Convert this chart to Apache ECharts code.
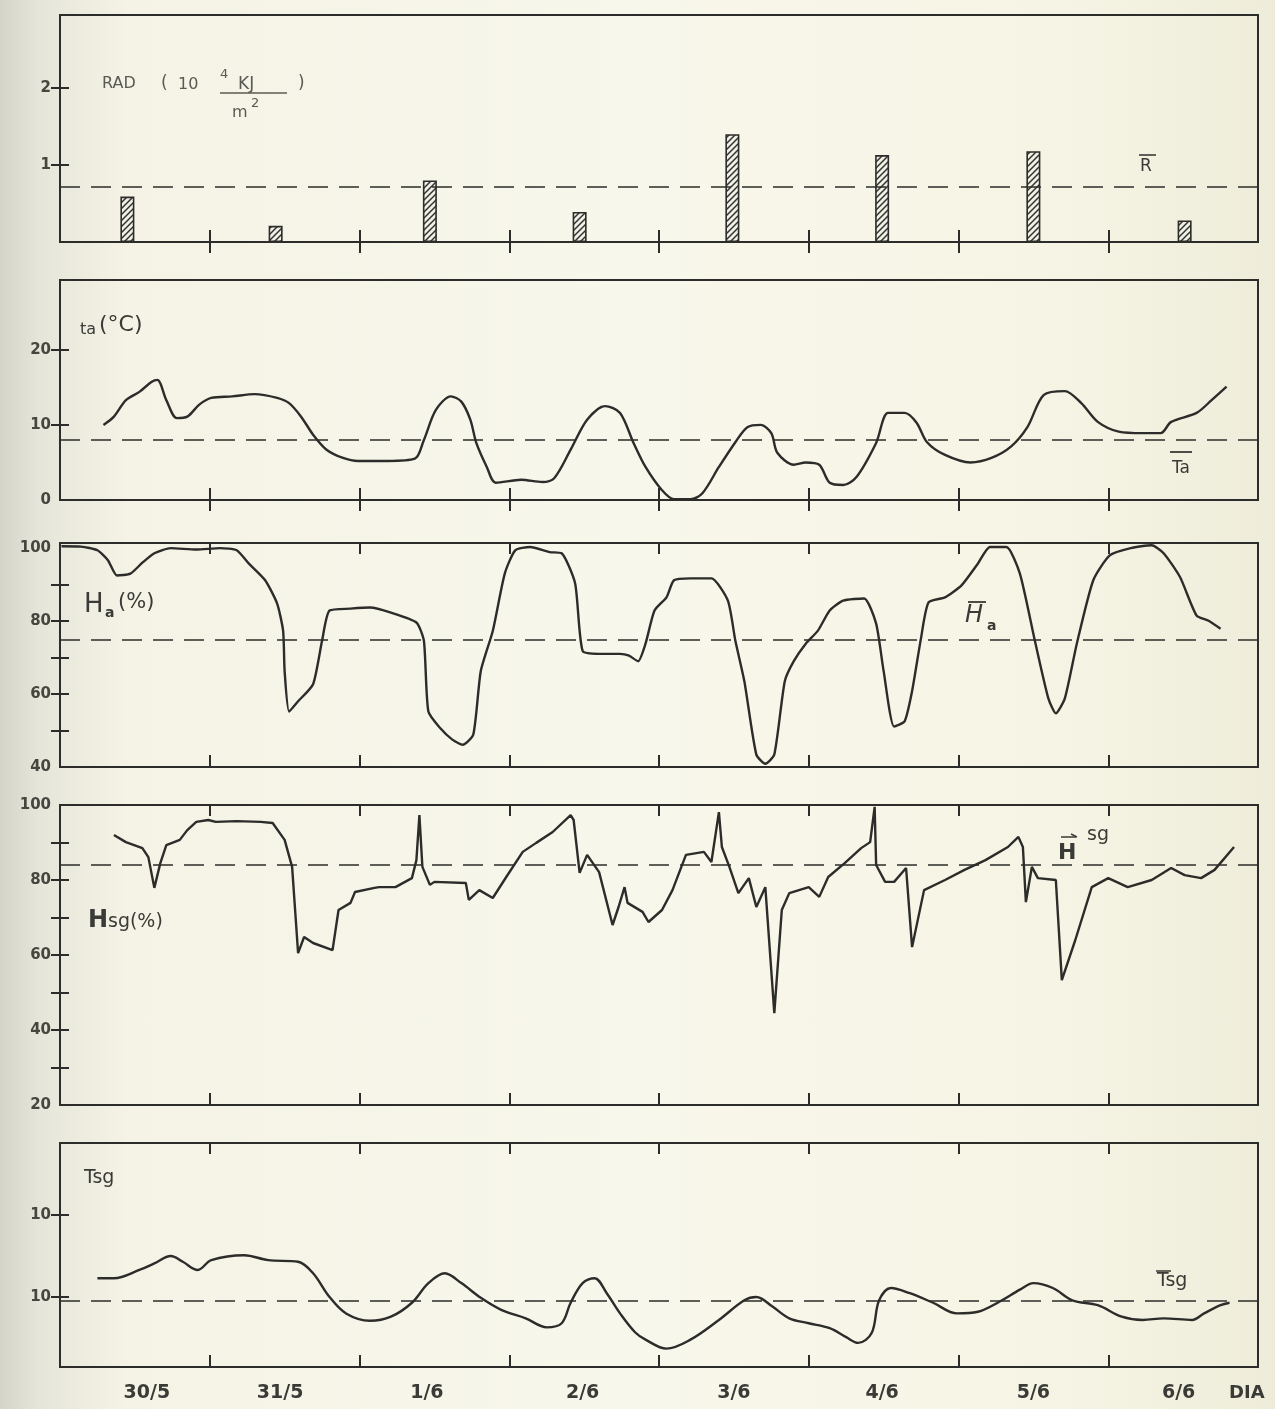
<!DOCTYPE html>
<html><head><meta charset="utf-8">
<script src="https://cdn.jsdelivr.net/npm/echarts@6/dist/echarts.min.js"></script>
<style>
html,body{margin:0;padding:0;}
body{width:1275px;height:1409px;background:linear-gradient(to right,#d4d4c9 0%,#e6e5d9 3%,#f4f3e6 10%,#f8f7eb 50%,#f5f4e4 85%,#eeecd9 100%);}
#c{width:1275px;height:1409px;}
</style></head><body><div id="c"></div>
<script>
// ---------- data ----------
const dayLabels = ['30/5','31/5','1/6','2/6','3/6','4/6','5/6','6/6'];
const dayLabelPos = [0.58,1.47,2.45,3.49,4.5,5.49,6.5,7.47];
const dayTicks = [1,2,3,4,5,6,7];

const radDayPos = [0.45,1.44,2.47,3.47,4.49,5.49,6.5,7.51];
const radValues = [0.59,0.21,0.8,0.39,1.4,1.13,1.18,0.28];
const radMean = 0.72;

const taData = [[0.29,10],[0.36,11.1],[0.44,13.3],[0.53,14.4],[0.61,15.7],[0.65,16],[0.71,13.3],[0.78,10.9],[0.85,11.1],[0.93,12.7],[1.01,13.6],[1.15,13.8],[1.3,14.1],[1.45,13.6],[1.53,12.9],[1.61,11.1],[1.69,8.7],[1.78,6.7],[1.89,5.6],[1.99,5.2],[2.19,5.2],[2.37,5.5],[2.43,8],[2.51,12],[2.61,13.8],[2.68,13.1],[2.74,10.7],[2.78,7.6],[2.85,4.4],[2.91,2.3],[3.08,2.7],[3.22,2.4],[3.3,2.9],[3.41,6.7],[3.52,10.7],[3.64,12.5],[3.74,11.6],[3.83,7.6],[3.91,4.4],[4.02,1.3],[4.1,0.1],[4.21,0.1],[4.29,0.9],[4.4,4.4],[4.51,7.7],[4.59,9.7],[4.68,10],[4.75,8.9],[4.79,6.3],[4.9,4.7],[4.98,5],[5.07,4.7],[5.14,2.3],[5.23,2],[5.32,3.1],[5.45,7.6],[5.53,11.6],[5.64,11.6],[5.72,10.3],[5.79,7.7],[5.91,6],[6.08,5],[6.22,5.6],[6.35,7.1],[6.46,9.7],[6.57,14],[6.71,14.5],[6.82,12.9],[6.93,10.4],[7.07,9.1],[7.23,8.9],[7.35,8.9],[7.42,10.4],[7.59,11.6],[7.69,13.3],[7.79,15.1]];
const taMean = 8;

const haData = [[0.01,100.5],[0.14,100.4],[0.25,99.4],[0.32,96.7],[0.38,92.5],[0.47,93],[0.55,96],[0.63,98.6],[0.74,100],[0.91,99.6],[1.07,100],[1.18,99.4],[1.26,95.8],[1.37,91.2],[1.45,84.8],[1.49,77.3],[1.5,66.3],[1.53,55.2],[1.59,58],[1.69,62.7],[1.75,74.6],[1.8,82.9],[1.94,83.4],[2.07,83.7],[2.21,82.3],[2.38,79.6],[2.43,74.6],[2.46,55.2],[2.54,50.6],[2.62,47.5],[2.69,46.1],[2.76,48.9],[2.81,66.3],[2.89,77.3],[2.97,93],[3.04,99.4],[3.14,100.3],[3.27,98.9],[3.35,98.6],[3.44,90.3],[3.49,71.8],[3.6,71],[3.74,71],[3.8,70.5],[3.86,69],[3.91,73.8],[3.97,82.9],[4.05,86.5],[4.1,91.2],[4.21,91.7],[4.35,91.7],[4.46,85.6],[4.51,74.6],[4.57,63.5],[4.65,43.4],[4.71,40.9],[4.77,43.4],[4.84,63.5],[4.9,69],[4.98,73.8],[5.06,77.3],[5.14,82.9],[5.23,85.6],[5.37,86.2],[5.45,79.3],[5.5,66.3],[5.57,51.1],[5.64,52.5],[5.69,60.8],[5.75,75.4],[5.8,85.1],[5.91,86.5],[6.02,89.8],[6.13,95.8],[6.21,100.3],[6.32,100.3],[6.41,93],[6.51,74.6],[6.6,58.8],[6.65,54.7],[6.71,58.8],[6.79,73.8],[6.9,91.2],[7.01,98],[7.15,100],[7.29,100.8],[7.37,98.6],[7.48,92],[7.59,81.5],[7.67,80.1],[7.75,77.9]];
const haMean = 75;

const hsgData = [[0.36,92],[0.44,90.1],[0.55,88.5],[0.59,86.1],[0.63,77.9],[0.67,84.5],[0.71,89.3],[0.8,90.7],[0.85,93.3],[0.91,95.5],[0.99,96],[1.04,95.5],[1.18,95.7],[1.34,95.5],[1.42,95.2],[1.5,90.7],[1.55,83.5],[1.59,60.5],[1.63,64.8],[1.69,63.2],[1.82,61.3],[1.86,72],[1.94,73.9],[1.97,76.8],[2.1,77.9],[2.13,78.1],[2.24,78.1],[2.35,80.5],[2.38,85.3],[2.4,97.3],[2.42,83.5],[2.47,78.7],[2.5,79.5],[2.71,79.2],[2.73,74.7],[2.8,77.3],[2.89,75.2],[2.98,80.8],[3.09,87.5],[3.18,89.9],[3.29,92.8],[3.41,97.3],[3.43,96],[3.47,81.9],[3.52,86.7],[3.6,82.1],[3.69,68],[3.73,72.8],[3.77,78.1],[3.79,73.9],[3.89,71.5],[3.93,68.8],[4.02,72],[4.09,77.3],[4.18,86.7],[4.3,87.5],[4.35,84.8],[4.4,98.1],[4.42,88.8],[4.47,83.5],[4.53,76.5],[4.6,80.5],[4.65,72.8],[4.71,78.1],[4.77,44.5],[4.82,72],[4.87,76.5],[5.0,78.1],[5.07,75.5],[5.13,80.8],[5.24,84.5],[5.35,88.5],[5.41,90.1],[5.44,99.5],[5.45,84],[5.51,79.5],[5.57,79.5],[5.65,83.2],[5.69,62.1],[5.77,77.3],[5.91,80],[6.04,82.7],[6.18,85.3],[6.33,88.8],[6.4,91.5],[6.43,88.8],[6.45,74.1],[6.49,83.5],[6.53,80.5],[6.65,80],[6.69,53.3],[6.78,64],[6.89,78.1],[7.0,80.5],[7.13,78.1],[7.29,80],[7.42,83.2],[7.51,81.3],[7.62,80.5],[7.71,82.7],[7.84,88.8]];
const hsgMean = 84;

const tsgData = [[0.25,12.3],[0.36,12.3],[0.53,13.3],[0.63,14.1],[0.74,15],[0.82,14.3],[0.92,13.3],[1.01,14.5],[1.23,15.1],[1.39,14.5],[1.59,14.3],[1.69,12.9],[1.8,10],[1.91,8],[2.07,7.1],[2.21,7.6],[2.35,9.3],[2.46,11.7],[2.57,12.9],[2.68,11.7],[2.81,9.9],[2.95,8.4],[3.11,7.4],[3.25,6.3],[3.35,6.8],[3.41,9.3],[3.49,11.7],[3.57,12.3],[3.65,10.5],[3.74,8],[3.84,5.7],[3.91,4.8],[4.05,3.7],[4.21,4.8],[4.4,7.2],[4.57,9.6],[4.65,10],[4.76,8.8],[4.87,7.4],[5.0,6.8],[5.14,6.2],[5.25,5.1],[5.33,4.4],[5.42,5.6],[5.47,9.6],[5.55,11.1],[5.67,10.5],[5.83,9.3],[5.99,8],[6.13,8.2],[6.27,9.4],[6.41,10.9],[6.5,11.7],[6.63,11.1],[6.76,9.6],[6.93,9],[7.09,7.6],[7.23,7.2],[7.37,7.4],[7.56,7.2],[7.64,8],[7.75,9],[7.81,9.3]];
const tsgMean = 9.5;

const radTicks = [1,2];           const radTickLabels = ['1','2'];
const taTicks = [0,10,20];        const taTickLabels = ['0','10','20'];
const haTicks = [40,60,80,100];   const haTickLabels = ['40','60','80','100'];
const haMinor = [50,60,70,80,90];
const hsgTicks = [20,40,60,80,100]; const hsgTickLabels = ['20','40','60','80','100'];
const hsgMinor = [30,40,50,60,70,80,90];
const tsgTicks = [10,20];         const tsgTickLabels = ['10','10'];

// ---------- layout / style ----------
const INK = '#2c2c2a';
const TXT = '#3a3a36';
const FONT = "'DejaVu Sans','Noto Sans',sans-serif";

const panels = [
  {top:15,  height:227, min:0,    max:2.95,  labels:radTicks, texts:radTickLabels, minor:radTicks},
  {top:280, height:220, min:0,    max:29.3,  labels:taTicks,  texts:taTickLabels,  minor:[10,20]},
  {top:543, height:224, min:40,   max:101.4, labels:haTicks,  texts:haTickLabels,  minor:haMinor},
  {top:805, height:300, min:20,   max:100,   labels:hsgTicks, texts:hsgTickLabels, minor:hsgMinor},
  {top:1143,height:224, min:1.46, max:28.8,  labels:tsgTicks, texts:tsgTickLabels, minor:tsgTicks}
];

const grid=[], xAxis=[], yAxis=[];
panels.forEach((p,i)=>{
  grid.push({left:60, width:1198, top:p.top, height:p.height, show:true, borderColor:INK, borderWidth:2, backgroundColor:'transparent'});
  const last = i===panels.length-1;
  xAxis.push({gridIndex:i, type:'value', min:0, max:8, position:'bottom',
    axisLine:{show:true, lineStyle:{color:INK, width:2}},
    axisTick:{show:true, inside:true, length:12, customValues:dayTicks, lineStyle:{color:INK, width:2}},
    splitLine:{show:false},
    axisLabel:{show:last, customValues:dayLabelPos, margin:17, color:TXT, fontFamily:FONT, fontSize:19, fontWeight:'bold',
      formatter:(v)=>{const k=dayLabelPos.indexOf(v); return k>=0?dayLabels[k]:'';}}});
  xAxis.push({gridIndex:i, type:'value', min:0, max:8, position:'top',
    axisLine:{show:true, lineStyle:{color:INK, width:2}},
    axisTick:{show:true, inside:true, length:11, customValues:dayTicks, lineStyle:{color:INK, width:2}},
    splitLine:{show:false}, axisLabel:{show:false}});
  yAxis.push({gridIndex:i, type:'value', min:p.min, max:p.max, position:'left',
    axisLine:{show:true, lineStyle:{color:INK, width:2}},
    axisTick:{show:true, inside:true, length:9, customValues:p.minor, lineStyle:{color:INK, width:2}},
    splitLine:{show:false},
    axisLabel:{customValues:p.labels, margin:9, color:'#46463f', fontFamily:FONT, fontSize:15, fontWeight:'bold',
      formatter:(v)=>{const k=p.labels.indexOf(v); return k>=0?p.texts[k]:'';}}});
  yAxis.push({gridIndex:i, type:'value', min:p.min, max:p.max, position:'right',
    axisLine:{show:true, lineStyle:{color:INK, width:2}},
    axisTick:{show:true, inside:true, length:9, customValues:p.minor, lineStyle:{color:INK, width:2}},
    splitLine:{show:false}, axisLabel:{show:false}});
});

// hatch pattern for bars
const pc = document.createElement('canvas'); pc.width=6; pc.height=6;
const g = pc.getContext('2d');
g.fillStyle='#f1f0e4'; g.fillRect(0,0,6,6);
g.strokeStyle='#333'; g.lineWidth=1.5;
g.beginPath(); g.moveTo(0,6); g.lineTo(6,0); g.moveTo(-3,3); g.lineTo(3,-3); g.moveTo(3,9); g.lineTo(9,3); g.stroke();

function meanLine(v){
  return {silent:true, symbol:'none', label:{show:false},
    lineStyle:{color:INK, type:[20,11], width:1.6}, data:[{yAxis:v}]};
}
function lineSeries(idx, data, mean, smooth){
  return {type:'line', xAxisIndex:idx*2, yAxisIndex:idx*2, data:data, showSymbol:false, smooth:smooth,
    lineStyle:{color:INK, width:2.4}, markLine:meanLine(mean), animation:false, z:3};
}

const series = [
  {type:'bar', xAxisIndex:0, yAxisIndex:0, barWidth:14,
   data: radDayPos.map((x,k)=>[x, radValues[k]]),
   itemStyle:{color:{image:pc, repeat:'repeat'}, borderColor:INK, borderWidth:1.6},
   markLine: meanLine(radMean), animation:false},
  lineSeries(1, taData, taMean, 0.3),
  lineSeries(2, haData, haMean, 0.2),
  lineSeries(3, hsgData, hsgMean, false),
  lineSeries(4, tsgData, tsgMean, 0.35)
];

function T(text,x,y,size,extra){
  return {type:'text', left:x, top:y, z:10,
    style:Object.assign({text:text, fontSize:size, fontFamily:FONT, fill:TXT}, extra||{})};
}
function L(x1,y1,x2,y2,w,c){
  return {type:'line', z:10, shape:{x1:x1,y1:y1,x2:x2,y2:y2}, style:{stroke:c||TXT, lineWidth:w||1.5}};
}
const GREY = '#5a5a54';

const graphic = [
  // RAD label
  T('RAD',102,76,16,{fill:GREY}),
  T('(',161,75,17,{fill:GREY}),
  T('10',178,77,16,{fill:GREY}),
  T('4',220,68,13,{fill:GREY}),
  T('KJ',238,76,17,{fill:GREY}),
  L(220,93,287,93,1.4,GREY),
  T(')',298,75,17,{fill:GREY}),
  T('m',232,105,16,{fill:GREY}),
  T('2',251,97,13,{fill:GREY}),
  // R bar
  T('R',1140,158,17),
  L(1139,155,1156,155,1.6),
  // ta label
  T('ta',80,322,16),
  T('(°C)',99,314,22),
  // Ta bar
  T('Ta',1172,460,17),
  L(1170,452,1192,452,1.8),
  // Ha label
  T('H',84,592,26),
  T('a',105,606,14,{fontWeight:'bold'}),
  T('(%)',118,592,21),
  // Ha bar
  T('H',965,604,24,{fontStyle:'italic'}),
  T('a',987,619,14,{fontWeight:'bold'}),
  L(968,602,986,602,1.8),
  // Hsg label
  T('H',88,909,24,{fontWeight:'bold'}),
  T('sg(%)',108,913,19),
  // Hsg arrow bar
  T('H',1058,842,22,{fontWeight:'bold'}),
  T('sg',1087,826,19),
  L(1061,837,1076,837,1.5),
  L(1071,834,1077,837,1.5),
  // Tsg
  T('Tsg',84,1169,19),
  T('Tsg',1157,1272,19),
  L(1156,1271,1171,1271,1.5),
  // DIA
  T('DIA',1229,1384,18,{fontWeight:'bold'})
];

const chart = echarts.init(document.getElementById('c'), null, {renderer:'canvas'});
chart.setOption({
  backgroundColor:'transparent',
  animation:false,
  grid:grid, xAxis:xAxis, yAxis:yAxis, series:series, graphic:graphic
});
</script></body></html>
